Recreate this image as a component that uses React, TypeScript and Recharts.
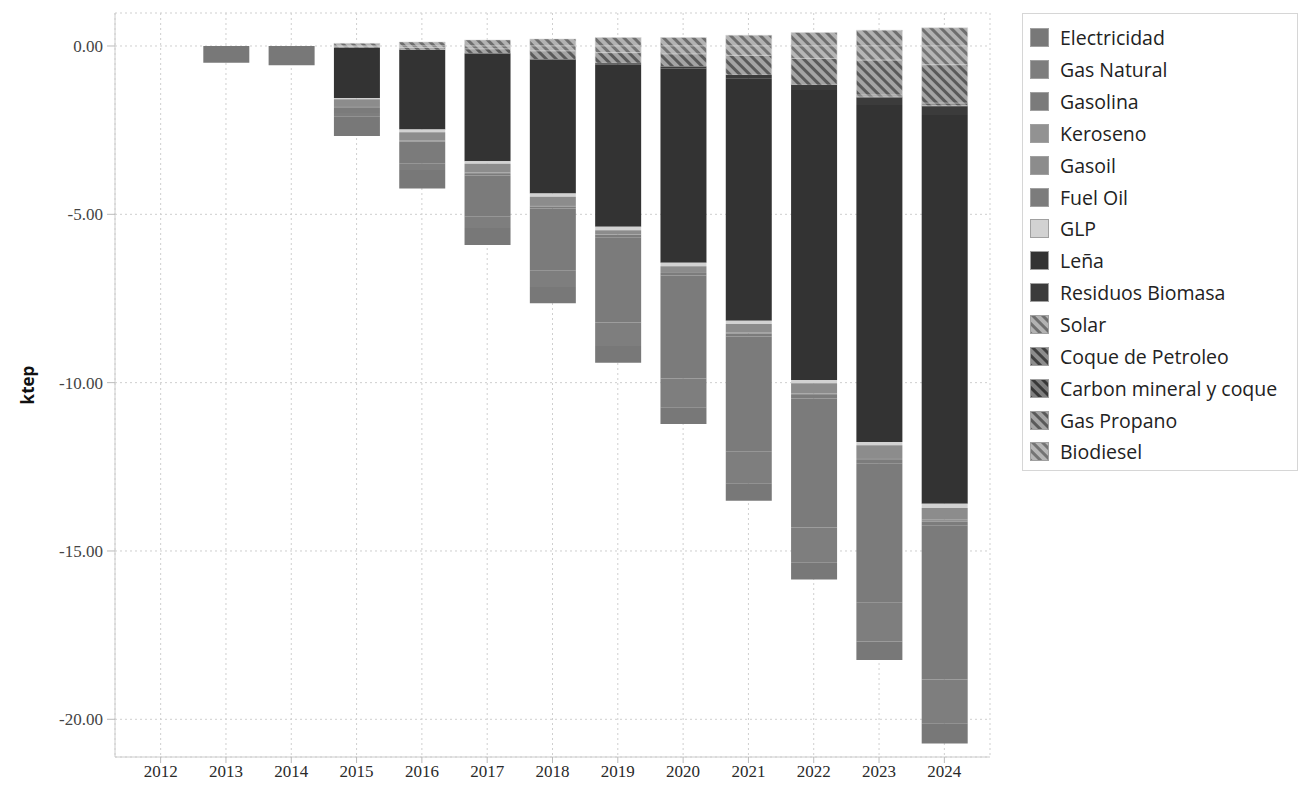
import React from 'react';
import { BarChart, Bar, XAxis, YAxis, CartesianGrid, Legend } from 'recharts';

const years = ['2012', '2013', '2014', '2015', '2016', '2017', '2018', '2019', '2020', '2021', '2022', '2023', '2024'];

const electricidad = [0, -0.5, -0.57, -0.58, -0.55, -0.5, -0.48, -0.5, -0.5, -0.52, -0.5, -0.55, -0.6];
const gasNatural = [0, 0, 0, -0.1, -0.2, -0.35, -0.5, -0.7, -0.85, -0.95, -1.05, -1.15, -1.3];
const gasolina = [0, 0, 0, -0.17, -0.6, -1.21, -1.83, -2.53, -3.06, -3.41, -3.83, -4.13, -4.57];
const keroseno = [0, 0, 0, -0.04, -0.04, -0.04, -0.05, -0.02, -0.03, -0.04, -0.05, -0.06, -0.06];
const gasoil = [0, 0, 0, -0.2, -0.24, -0.26, -0.24, -0.12, -0.17, -0.24, -0.3, -0.38, -0.35];
const fuelOil = [0, 0, 0, 0, -0.04, -0.05, -0.06, -0.07, -0.08, -0.09, -0.1, -0.11, -0.12];
const glp = [0, 0, 0, -0.03, -0.08, -0.08, -0.1, -0.1, -0.1, -0.1, -0.1, -0.1, -0.12];
const lena = [0, 0, 0, -1.5, -2.36, -3.2, -3.98, -4.82, -5.77, -7.2, -8.61, -10.01, -11.55];
const residuos = [0, 0, 0, 0, 0, 0, 0, -0.04, -0.06, -0.1, -0.15, -0.22, -0.26];
const solar = [0, 0, 0, 0.08, 0.12, 0.18, 0.21, 0.25, 0.25, 0.32, 0.4, 0.47, 0.54];
const coque = [0, 0, 0, 0, 0, 0, 0, 0, 0, 0, 0, -0.02, -0.03];
const carbon = [0, 0, 0, 0, 0, 0, 0, 0, 0, 0, 0, -0.05, -0.06];
const gasPropano = [0, 0, 0, -0.03, -0.07, -0.13, -0.25, -0.31, -0.37, -0.58, -0.79, -1.04, -1.14];
const biodiesel = [0, 0, 0, -0.02, -0.05, -0.09, -0.15, -0.2, -0.24, -0.28, -0.37, -0.42, -0.56];

const yTicks = [0, -5, -10, -15, -20];

type Series = { key: string; name: string; values: number[]; fill: string; hatch?: { bg: string; fg: string } };

const SERIES: Series[] = [
  { key: 'electricidad', name: 'Electricidad', values: electricidad, fill: '#787878' },
  { key: 'gasNatural', name: 'Gas Natural', values: gasNatural, fill: '#7e7e7e' },
  { key: 'gasolina', name: 'Gasolina', values: gasolina, fill: '#7b7b7b' },
  { key: 'keroseno', name: 'Keroseno', values: keroseno, fill: '#929292' },
  { key: 'gasoil', name: 'Gasoil', values: gasoil, fill: '#8c8c8c' },
  { key: 'fuelOil', name: 'Fuel Oil', values: fuelOil, fill: '#7c7c7c' },
  { key: 'glp', name: 'GLP', values: glp, fill: '#d2d2d2' },
  { key: 'lena', name: 'Leña', values: lena, fill: '#333333' },
  { key: 'residuos', name: 'Residuos Biomasa', values: residuos, fill: '#3b3b3b' },
  { key: 'solar', name: 'Solar', values: solar, fill: 'url(#h-solar)', hatch: { bg: '#b2b2b2', fg: '#6e6e6e' } },
  { key: 'coque', name: 'Coque de Petroleo', values: coque, fill: 'url(#h-coque)', hatch: { bg: '#8c8c8c', fg: '#404040' } },
  { key: 'carbon', name: 'Carbon mineral y coque', values: carbon, fill: 'url(#h-carbon)', hatch: { bg: '#7e7e7e', fg: '#383838' } },
  { key: 'gasPropano', name: 'Gas Propano', values: gasPropano, fill: 'url(#h-gasPropano)', hatch: { bg: '#a4a4a4', fg: '#5a5a5a' } },
  { key: 'biodiesel', name: 'Biodiesel', values: biodiesel, fill: 'url(#h-biodiesel)', hatch: { bg: '#b6b6b6', fg: '#747474' } },
];

// stacking order (from zero outward)
const STACK_ORDER = ['solar', 'biodiesel', 'gasPropano', 'carbon', 'coque', 'residuos', 'lena', 'glp', 'gasoil', 'keroseno', 'fuelOil', 'gasolina', 'gasNatural', 'electricidad'];

const data = years.map((year, i) => {
  const row: Record<string, number | string> = { year };
  SERIES.forEach((s) => {
    row[s.key] = s.values[i];
  });
  return row;
});

const byKey = (k: string) => SERIES.find((s) => s.key === k) as Series;

const LegendBox = () => (
  <div
    style={{
      border: '1px solid #d6d6d6',
      width: 276,
      height: 458,
      boxSizing: 'border-box',
      padding: '8px 0 0 7px',
      fontFamily: '"Open Sans", sans-serif',
      fontSize: 19.5,
      color: '#222',
      background: '#fff',
    }}
  >
    {SERIES.map((s) => (
      <div key={s.key} style={{ display: 'flex', alignItems: 'center', height: 31.85, whiteSpace: 'nowrap' }}>
        <svg width={19} height={19} style={{ marginRight: 11, flex: 'none' }}>
          <rect x={0.5} y={0.5} width={18} height={18} fill={s.fill} stroke="#a0a0a0" />
        </svg>
        <span>{s.name}</span>
      </div>
    ))}
  </div>
);

export default function App() {
  return (
    <div style={{ position: 'relative', width: 1291, height: 780 }}>
      <BarChart
        width={1291}
        height={780}
        data={data}
        stackOffset="sign"
        barSize={46}
        margin={{ top: 5, right: 309, bottom: 5, left: 0 }}
      >
        <defs>
          {SERIES.filter((s) => s.hatch).map((s) => (
            <pattern
              key={s.key}
              id={`h-${s.key}`}
              patternUnits="userSpaceOnUse"
              width={7}
              height={7}
              patternTransform="rotate(-45)"
            >
              <rect width={7} height={7} fill={s.hatch!.bg} />
              <rect width={3} height={7} fill={s.hatch!.fg} />
            </pattern>
          ))}
        </defs>
        <CartesianGrid stroke="#cfcfcf" strokeDasharray="2 3" />
        <XAxis
          dataKey="year"
          height={26}
          padding={{ left: 13, right: 13 }}
          axisLine={{ stroke: '#cccccc' }}
          tickLine={{ stroke: '#bbbbbb' }}
          tickSize={6}
          tick={{ fontFamily: '"Liberation Serif", serif', fontSize: 17, fill: '#2a2a2a' }}
        />
        <XAxis
          xAxisId="top"
          dataKey="year"
          orientation="top"
          height={0}
          tick={false}
          tickLine={false}
          axisLine={{ stroke: '#dddddd' }}
        />
        <YAxis
          width={107}
          domain={[-21.12, 0.98]}
          ticks={yTicks}
          allowDataOverflow
          axisLine={{ stroke: '#cccccc' }}
          tickLine={{ stroke: '#bbbbbb' }}
          tickSize={8}
          tickMargin={4}
          tickFormatter={(v: number) => v.toFixed(2)}
          tick={{ fontFamily: '"Liberation Serif", serif', fontSize: 17, fill: '#444' }}
          label={{
            value: 'ktep',
            angle: -90,
            position: 'insideLeft',
            offset: 20,
            style: { textAnchor: 'middle', fontFamily: '"Open Sans", sans-serif', fontWeight: 700, fontSize: 17, fill: '#111' },
          }}
        />
        <YAxis
          yAxisId="right"
          orientation="right"
          width={0}
          tick={false}
          tickLine={false}
          axisLine={{ stroke: '#dddddd' }}
        />
        <Legend
          layout="vertical"
          align="center"
          verticalAlign="middle"
          content={() => <LegendBox />}
          wrapperStyle={{ left: 1014, top: 5, width: 276, height: 458 }}
        />
        {STACK_ORDER.map((k) => {
          const s = byKey(k);
          return (
            <Bar
              key={s.key}
              dataKey={s.key}
              name={s.name}
              stackId="a"
              fill={s.fill}
              stroke={s.hatch ? '#dadada' : 'none'}
              strokeWidth={s.hatch ? 0.5 : 0}
              isAnimationActive={false}
            />
          );
        })}
      </BarChart>
    </div>
  );
}
